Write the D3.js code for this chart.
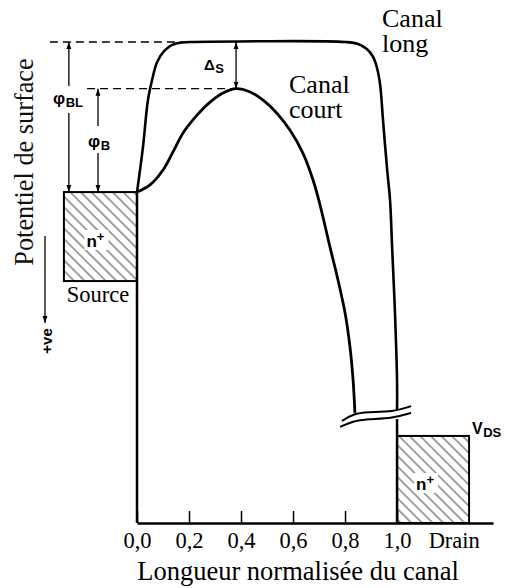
<!DOCTYPE html>
<html><head><meta charset="utf-8">
<script src="https://cdn.jsdelivr.net/npm/d3@7"></script>
<style>body{margin:0;background:#fff} svg{display:block}</style>
</head><body>
<svg id="c" width="506" height="588"></svg>
<script>
// ---------- data ----------
const xTicks = [0, 0.2, 0.4, 0.6, 0.8, 1.0];
const xTickLabels = ["0,0", "0,2", "0,4", "0,6", "0,8", "1,0"];
const drainLabel = "Drain";
const drainLabelX = 1.22;

// surface potential (arbitrary units, 0 = axis, 100 = long-channel barrier)
const levelLong = 100;
const levelShort = 90.3;
const levelSource = 68.8;
const levelSourceBottom = 50.3;
const levelDrain = 18.1;
const sourceX = [-0.281, 0];
const drainX = [1.0, 1.277];
const peakX = 0.381;

const shortChannel = [
  [0, 68.8], [0.050, 70.3], [0.100, 73.4], [0.138, 77.1], [0.177, 81.1],
  [0.231, 84.8], [0.281, 87.5], [0.331, 89.4], [0.381, 90.3], [0.435, 89.6],
  [0.485, 87.9], [0.538, 85.2], [0.588, 81.7], [0.638, 76.9], [0.677, 71.3],
  [0.704, 66.1], [0.742, 57.4], [0.773, 50.5], [0.800, 43.7], [0.819, 36.6],
  [0.831, 29.7], [0.838, 22.9]
];
const longChannel = [
  [0, 68.8], [0.023, 78.2], [0.042, 87.9], [0.058, 92.1], [0.077, 95.8],
  [0.104, 98.1], [0.135, 99.4], [0.173, 99.9], [0.223, 100], [0.8, 100],
  [0.850, 99.6], [0.885, 98.5], [0.908, 96.9], [0.923, 94.6], [0.935, 91.1],
  [0.946, 83.8], [0.962, 73.4], [0.973, 67.2], [0.981, 57.4], [0.992, 43.7],
  [1.0, 29.7], [1.0, 23.5]
];
const longChannelBelowBreak = [[1.0, 21.6], [1.0, 0]];
const breakUpper = [[0.788, 21.2], [0.831, 22.7], [0.885, 23.1], [0.985, 23.1], [1.054, 24.3]];
const breakLower = [[0.781, 20.0], [0.831, 21.2], [0.885, 21.6], [0.985, 21.8], [1.054, 22.9]];

// annotation anchors (data x)
const dashLongStart = -0.335, dashLongEnd = 0.2;
const dashShortStart = -0.192;
const arrowBLx = -0.262, arrowBx = -0.15;

// ---------- scales ----------
const svg = d3.select("#c");
const x = d3.scaleLinear().domain([0, 1.369]).range([137, 493]);
const y = d3.scaleLinear().domain([0, 100]).range([523, 42]);

const SERIF = "'Liberation Serif','Times New Roman',serif";
const SANS = "'Liberation Sans',Arial,sans-serif";

// defs: hatch + arrows
const defs = svg.append("defs");
const pat = defs.append("pattern").attr("id", "hatch")
  .attr("patternUnits", "userSpaceOnUse").attr("width", 7.5).attr("height", 7.5)
  .attr("patternTransform", "rotate(45)");
pat.append("line").attr("x1", 0).attr("y1", 3.75).attr("x2", 7.5).attr("y2", 3.75)
  .attr("stroke", "#444").attr("stroke-width", 1);
defs.append("marker").attr("id", "ah").attr("viewBox", "0 0 10 10")
  .attr("refX", 10).attr("refY", 5).attr("markerWidth", 7).attr("markerHeight", 7)
  .attr("markerUnits", "userSpaceOnUse").attr("orient", "auto-start-reverse")
  .append("path").attr("d", "M0,1.5 L10,5 L0,8.5 Z").attr("fill", "#000");

// ---------- boxes ----------
svg.append("rect")
  .attr("x", x(sourceX[0])).attr("y", y(levelSource))
  .attr("width", x(sourceX[1]) - x(sourceX[0]))
  .attr("height", y(levelSourceBottom) - y(levelSource))
  .attr("fill", "url(#hatch)").attr("stroke", "#000").attr("stroke-width", 2);
svg.append("rect")
  .attr("x", x(drainX[0])).attr("y", y(levelDrain))
  .attr("width", x(drainX[1]) - x(drainX[0]))
  .attr("height", y(0) - y(levelDrain))
  .attr("fill", "url(#hatch)").attr("stroke", "#000").attr("stroke-width", 2);

// n+ labels with white backing
function nplus(cx, by) {
  svg.append("rect").attr("x", cx - 12).attr("y", by - 17).attr("width", 24).attr("height", 20).attr("fill", "#fff");
  const t = svg.append("text").attr("x", cx - 10).attr("y", by).attr("font-family", SANS)
    .attr("font-weight", "bold").attr("font-size", 17);
  t.append("tspan").text("n");
  t.append("tspan").attr("font-size", 13).attr("dy", -6).text("+");
}
nplus((x(sourceX[0]) + x(sourceX[1])) / 2 - 4, 247);
nplus((x(drainX[0]) + x(drainX[1])) / 2 - 7, 490);

// ---------- vertical axis line at x=0 ----------
svg.append("line").attr("x1", x(0)).attr("x2", x(0))
  .attr("y1", y(levelSource)).attr("y2", y(0))
  .attr("stroke", "#000").attr("stroke-width", 2.5);

// ---------- curves ----------
const line = d3.line().x(d => x(d[0])).y(d => y(d[1])).curve(d3.curveCatmullRom.alpha(0.5));
svg.append("path").attr("d", line(longChannel)).attr("fill", "none")
  .attr("stroke", "#000").attr("stroke-width", 2.6);
svg.append("path").attr("d", d3.line().x(d => x(d[0])).y(d => y(d[1]))(longChannelBelowBreak))
  .attr("fill", "none").attr("stroke", "#000").attr("stroke-width", 2.5);
svg.append("path").attr("d", line(shortChannel)).attr("fill", "none")
  .attr("stroke", "#000").attr("stroke-width", 2.8);

// break marks
const wave = d3.line().x(d => x(d[0])).y(d => y(d[1])).curve(d3.curveBasis);
const band = breakUpper.concat(breakLower.slice().reverse());
svg.append("path").attr("d", d3.line().x(d => x(d[0])).y(d => y(d[1])).curve(d3.curveLinearClosed)(band))
  .attr("fill", "#fff").attr("stroke", "none");
[breakUpper, breakLower].forEach(b => svg.append("path").attr("d", wave(b))
  .attr("fill", "none").attr("stroke", "#000").attr("stroke-width", 2));

// ---------- x axis ----------
const ax = svg.append("g").attr("transform", `translate(0,${y(0)})`)
  .call(d3.axisBottom(x).tickValues(xTicks).tickFormat((d, i) => xTickLabels[i])
    .tickSizeInner(-12).tickSizeOuter(0).tickPadding(9));
ax.select(".domain").attr("stroke", "#000").attr("stroke-width", 2.5);
ax.selectAll(".tick line").attr("stroke", "#000").attr("stroke-width", 1.5);
ax.selectAll(".tick text").attr("font-family", SERIF).attr("font-size", 22.5).attr("fill", "#000");
svg.append("text").attr("x", x(drainLabelX)).attr("y", 548).attr("text-anchor", "middle")
  .attr("font-family", SERIF).attr("font-size", 22.5).text(drainLabel);

// ---------- dashed guide lines ----------
svg.append("line").attr("x1", x(dashLongStart)).attr("x2", x(dashLongEnd))
  .attr("y1", y(levelLong)).attr("y2", y(levelLong))
  .attr("stroke", "#000").attr("stroke-width", 1.3).attr("stroke-dasharray", "8,5");
svg.append("line").attr("x1", x(dashShortStart)).attr("x2", x(peakX))
  .attr("y1", y(levelShort)).attr("y2", y(levelShort))
  .attr("stroke", "#000").attr("stroke-width", 1.3).attr("stroke-dasharray", "8,5");

// ---------- arrows ----------
function arrowSeg(xp, y1, y2, startHead, endHead) {
  const l = svg.append("line").attr("x1", xp).attr("x2", xp).attr("y1", y1).attr("y2", y2)
    .attr("stroke", "#000").attr("stroke-width", 1.3);
  if (startHead) l.attr("marker-start", "url(#ah)");
  if (endHead) l.attr("marker-end", "url(#ah)");
}
arrowSeg(x(arrowBLx), y(levelLong), 86, true, false);
arrowSeg(x(arrowBLx), 113, y(levelSource), false, true);
arrowSeg(x(arrowBx), y(levelShort), 126, true, false);
arrowSeg(x(arrowBx), 153, y(levelSource), false, true);
arrowSeg(x(peakX), y(levelLong), y(levelShort), true, true);

// symbol labels (main + subscript in one text)
function symLabel(xp, by, main, sub, mainSize) {
  const t = svg.append("text").attr("x", xp).attr("y", by).attr("font-family", SANS)
    .attr("font-weight", "bold").attr("font-size", mainSize);
  t.append("tspan").text(main);
  t.append("tspan").attr("font-size", 13).attr("dx", 0.5).attr("dy", 3).text(sub);
}
symLabel(53, 104, "\u03C6", "BL", 17);
symLabel(88, 147, "\u03C6", "B", 17);
symLabel(204, 70, "\u0394", "S", 15);
symLabel(472, 434, "V", "DS", 16);

// ---------- serif labels ----------
function serifLines(tx, ty, lines, size, gap) {
  const t = svg.append("text").attr("x", tx).attr("y", ty).attr("font-family", SERIF)
    .attr("font-size", size).attr("fill", "#000");
  lines.forEach((s, i) => t.append("tspan").attr("x", tx).attr("dy", i ? gap : 0).text(s));
}
serifLines(382, 27, ["Canal", "long"], 26, 25);
serifLines(289, 93, ["Canal", "court"], 26, 25);
svg.append("text").attr("x", 98).attr("y", 302).attr("text-anchor", "middle")
  .attr("font-family", SERIF).attr("font-size", 22.5).text("Source");
svg.append("text").attr("x", 298).attr("y", 580).attr("text-anchor", "middle")
  .attr("font-family", SERIF).attr("font-size", 26.5).text("Longueur normalisée du canal");
svg.append("text").attr("transform", "translate(33,162) rotate(-90)")
  .attr("text-anchor", "middle").attr("font-family", SERIF).attr("font-size", 26.3)
  .attr("fill", "#111").text("Potentiel de surface");

// +ve arrow
svg.append("line").attr("x1", 45).attr("x2", 45).attr("y1", 236).attr("y2", 323)
  .attr("stroke", "#000").attr("stroke-width", 1.3).attr("marker-end", "url(#ah)");
svg.append("text").attr("transform", "translate(52,341) rotate(-90)")
  .attr("text-anchor", "middle").attr("font-family", SANS).attr("font-weight", "bold")
  .attr("font-size", 15).text("+ve");
</script>
</body></html>
